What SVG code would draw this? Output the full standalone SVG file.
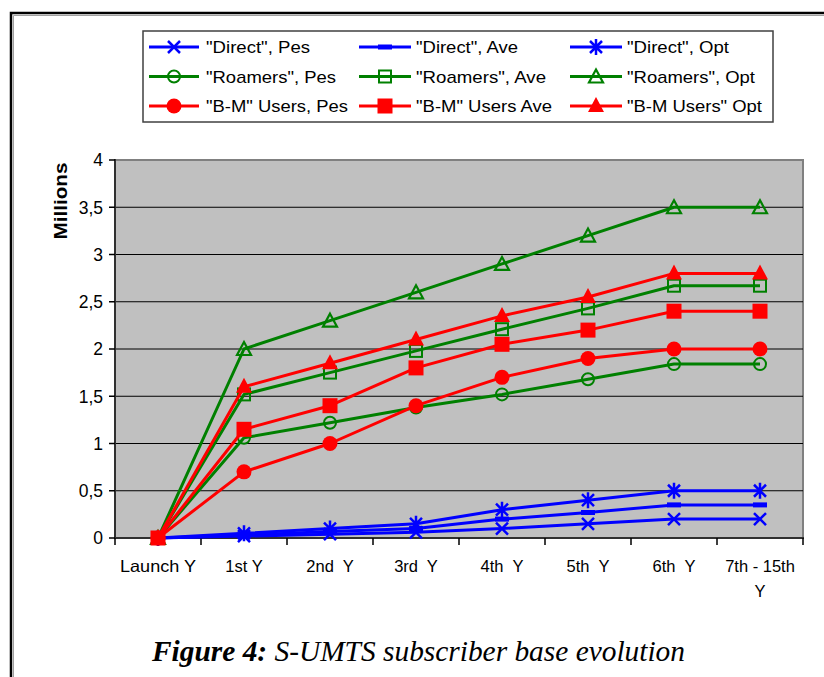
<svg xmlns="http://www.w3.org/2000/svg" width="824" height="677" viewBox="0 0 824 677">
<style>
  .lbl{font-family:"Liberation Sans",Arial,sans-serif;font-size:16.5px;fill:#000;white-space:pre}
  .ylbl{font-family:"Liberation Sans",Arial,sans-serif;font-size:17.5px;fill:#000}
  .leg{font-family:"Liberation Sans",Arial,sans-serif;font-size:17px;fill:#000}
  .grid{stroke:#000;stroke-width:1}
  .blue{fill:none;stroke:#0000FF;stroke-width:3;stroke-linejoin:round}
  .green{fill:none;stroke:#008000;stroke-width:3;stroke-linejoin:round}
  .red{fill:none;stroke:#FF0000;stroke-width:3;stroke-linejoin:round}
  .tick{stroke:#000;stroke-width:1.5}
</style>
<defs>
  <marker id="mX" viewBox="-9 -9 18 18" refX="0" refY="0" markerWidth="18" markerHeight="18" markerUnits="userSpaceOnUse" overflow="visible">
    <path d="M-6,-6 L6,6 M-6,6 L6,-6" stroke="#0000FF" stroke-width="2.5" fill="none"/>
  </marker>
  <marker id="mDash" viewBox="-9 -9 18 18" refX="0" refY="0" markerWidth="18" markerHeight="18" markerUnits="userSpaceOnUse" overflow="visible">
    <rect x="-7" y="-2.5" width="14" height="5" fill="#0000FF"/>
  </marker>
  <marker id="mStar" viewBox="-9 -9 18 18" refX="0" refY="0" markerWidth="18" markerHeight="18" markerUnits="userSpaceOnUse" overflow="visible">
    <path d="M-6,-6 L6,6 M-6,6 L6,-6 M0,-8 L0,8" stroke="#0000FF" stroke-width="2.5" fill="none"/>
  </marker>
  <marker id="mCircO" viewBox="-9 -9 18 18" refX="0" refY="0" markerWidth="18" markerHeight="18" markerUnits="userSpaceOnUse" overflow="visible">
    <circle r="6" fill="none" stroke="#008000" stroke-width="2"/>
  </marker>
  <marker id="mSqO" viewBox="-9 -9 18 18" refX="0" refY="0" markerWidth="18" markerHeight="18" markerUnits="userSpaceOnUse" overflow="visible">
    <rect x="-6" y="-6" width="12" height="12" fill="none" stroke="#008000" stroke-width="2"/>
  </marker>
  <marker id="mTriO" viewBox="-9 -9 18 18" refX="0" refY="0" markerWidth="18" markerHeight="18" markerUnits="userSpaceOnUse" overflow="visible">
    <polygon points="0,-7 7,6 -7,6" fill="none" stroke="#008000" stroke-width="2.2"/>
  </marker>
  <marker id="mCircF" viewBox="-9 -9 18 18" refX="0" refY="0" markerWidth="18" markerHeight="18" markerUnits="userSpaceOnUse" overflow="visible">
    <circle r="7.5" fill="#FF0000"/>
  </marker>
  <marker id="mSqF" viewBox="-9 -9 18 18" refX="0" refY="0" markerWidth="18" markerHeight="18" markerUnits="userSpaceOnUse" overflow="visible">
    <rect x="-7.5" y="-7.5" width="15" height="15" fill="#FF0000"/>
  </marker>
  <marker id="mTriF" viewBox="-9 -9 18 18" refX="0" refY="0" markerWidth="18" markerHeight="18" markerUnits="userSpaceOnUse" overflow="visible">
    <polygon points="0,-9 8,6 -8,6" fill="#FF0000"/>
  </marker>
</defs>
<rect width="824" height="677" fill="#FFFFFF"/>

<g id="frame">
  <path d="M11,677 V13 H824" fill="none" stroke="#000" stroke-width="2.5"/>
  <path d="M13.5,677 V15.5 H824" fill="none" stroke="#A0A0A0" stroke-width="1"/>
</g>

<g id="legend">
  <rect x="143" y="31" width="630" height="91" fill="#FFFFFF" stroke="#404040" stroke-width="1.5"/>
  <g id="leg-direct-pes"><path class="blue" d="M149,47 H174 H199" marker-mid="url(#mX)"/><text class="leg" x="206" y="53" textLength="104" lengthAdjust="spacingAndGlyphs">"Direct", Pes</text></g>
  <g id="leg-direct-ave"><path class="blue" d="M359,47 H385 H411" marker-mid="url(#mDash)"/><text class="leg" x="416" y="53" textLength="102" lengthAdjust="spacingAndGlyphs">"Direct", Ave</text></g>
  <g id="leg-direct-opt"><path class="blue" d="M570,47 H596 H622" marker-mid="url(#mStar)"/><text class="leg" x="627" y="53" textLength="102" lengthAdjust="spacingAndGlyphs">"Direct", Opt</text></g>
  <g id="leg-roam-pes"><path class="green" d="M149,76.5 H174 H199" marker-mid="url(#mCircO)"/><text class="leg" x="206" y="82.5" textLength="130" lengthAdjust="spacingAndGlyphs">"Roamers", Pes</text></g>
  <g id="leg-roam-ave"><path class="green" d="M359,76.5 H385 H411" marker-mid="url(#mSqO)"/><text class="leg" x="416" y="82.5" textLength="130" lengthAdjust="spacingAndGlyphs">"Roamers", Ave</text></g>
  <g id="leg-roam-opt"><path class="green" d="M570,76.5 H596 H622" marker-mid="url(#mTriO)"/><text class="leg" x="627" y="82.5" textLength="128" lengthAdjust="spacingAndGlyphs">"Roamers", Opt</text></g>
  <g id="leg-bm-pes"><path class="red" d="M149,106 H174 H199" marker-mid="url(#mCircF)"/><text class="leg" x="206" y="112" textLength="142" lengthAdjust="spacingAndGlyphs">"B-M" Users, Pes</text></g>
  <g id="leg-bm-ave"><path class="red" d="M359,106 H385 H411" marker-mid="url(#mSqF)"/><text class="leg" x="416" y="112" textLength="136" lengthAdjust="spacingAndGlyphs">"B-M" Users Ave</text></g>
  <g id="leg-bm-opt"><path class="red" d="M570,106 H596 H622" marker-mid="url(#mTriF)"/><text class="leg" x="627" y="112" textLength="135" lengthAdjust="spacingAndGlyphs">"B-M Users" Opt</text></g>
</g>

<g id="plot-area">
  <rect x="115" y="160" width="688" height="378" fill="#C0C0C0" stroke="#808080" stroke-width="2"/>
  <g id="gridlines">
    <line class="grid" x1="115" y1="207.25" x2="803" y2="207.25"/>
    <line class="grid" x1="115" y1="254.5" x2="803" y2="254.5"/>
    <line class="grid" x1="115" y1="301.75" x2="803" y2="301.75"/>
    <line class="grid" x1="115" y1="349" x2="803" y2="349"/>
    <line class="grid" x1="115" y1="396.25" x2="803" y2="396.25"/>
    <line class="grid" x1="115" y1="443.5" x2="803" y2="443.5"/>
    <line class="grid" x1="115" y1="490.75" x2="803" y2="490.75"/>
  </g>
  <g id="axes">
    <line x1="115" y1="159" x2="115" y2="539" stroke="#303030" stroke-width="2"/>
    <line x1="114" y1="538" x2="804" y2="538" stroke="#303030" stroke-width="2"/>
    <path class="tick" d="M109,160 H115 M109,207.25 H115 M109,254.5 H115 M109,301.75 H115 M109,349 H115 M109,396.25 H115 M109,443.5 H115 M109,490.75 H115 M109,538 H115"/>
    <path class="tick" d="M115,538 V545 M201,538 V545 M287,538 V545 M373,538 V545 M459,538 V545 M545,538 V545 M631,538 V545 M717,538 V545 M803,538 V545"/>
  </g>
</g>

<g id="y-labels" class="ylbl" text-anchor="end">
  <text x="103" y="166">4</text>
  <text x="103" y="213.5">3,5</text>
  <text x="103" y="260.5">3</text>
  <text x="103" y="308">2,5</text>
  <text x="103" y="355">2</text>
  <text x="103" y="402.5">1,5</text>
  <text x="103" y="449.5">1</text>
  <text x="103" y="497">0,5</text>
  <text x="103" y="544">0</text>
</g>
<text id="y-title" transform="translate(67,201) rotate(-90)" text-anchor="middle" font-family="Liberation Sans, Arial, sans-serif" font-weight="bold" font-size="19" textLength="77" lengthAdjust="spacingAndGlyphs">Millions</text>

<g id="x-labels" class="lbl" text-anchor="middle">
  <text x="158" y="572" textLength="76" lengthAdjust="spacingAndGlyphs">Launch Y</text>
  <text x="244" y="572">1st Y</text>
  <text x="330" y="572">2nd&#160; Y</text>
  <text x="416" y="572">3rd&#160; Y</text>
  <text x="502" y="572">4th&#160; Y</text>
  <text x="588" y="572">5th&#160; Y</text>
  <text x="674" y="572">6th&#160; Y</text>
  <text x="760" y="572">7th - 15th</text>
  <text x="760" y="597">Y</text>
</g>

<g id="series">
  <polyline id="direct-pes" class="blue" points="158,538 244,536.1 330,534.2 416,532.3 502,528.55 588,523.8 674,519.1 760,519.1" marker-start="url(#mX)" marker-mid="url(#mX)" marker-end="url(#mX)"/>
  <polyline id="direct-ave" class="blue" points="158,538 244,535.2 330,531.4 416,528.6 502,519.1 588,512.5 674,504.9 760,504.9" marker-start="url(#mDash)" marker-mid="url(#mDash)" marker-end="url(#mDash)"/>
  <polyline id="direct-opt" class="blue" points="158,538 244,533.3 330,528.6 416,523.8 502,509.7 588,500.2 674,490.75 760,490.75" marker-start="url(#mStar)" marker-mid="url(#mStar)" marker-end="url(#mStar)"/>
  <polyline id="roam-pes" class="green" points="158,538 244,437.8 330,422.7 416,407.6 502,394.4 588,379.2 674,364.1 760,364.1" marker-start="url(#mCircO)" marker-mid="url(#mCircO)" marker-end="url(#mCircO)"/>
  <polyline id="roam-ave" class="green" points="158,538 244,394.4 330,372.6 416,350.9 502,329.2 588,308.4 674,285.7 760,285.7" marker-start="url(#mSqO)" marker-mid="url(#mSqO)" marker-end="url(#mSqO)"/>
  <polyline id="roam-opt" class="green" points="158,538 244,349 330,320.65 416,292.3 502,263.95 588,235.6 674,207.25 760,207.25" marker-start="url(#mTriO)" marker-mid="url(#mTriO)" marker-end="url(#mTriO)"/>
  <polyline id="bm-pes" class="red" points="158,538 244,471.85 330,443.5 416,405.7 502,377.35 588,358.45 674,349 760,349" marker-start="url(#mCircF)" marker-mid="url(#mCircF)" marker-end="url(#mCircF)"/>
  <polyline id="bm-opt" class="red" points="158,538 244,386.8 330,363.2 416,339.55 502,315.9 588,297 674,273.4 760,273.4" marker-start="url(#mTriF)" marker-mid="url(#mTriF)" marker-end="url(#mTriF)"/>
  <polyline id="bm-ave" class="red" points="158,538 244,429.3 330,405.7 416,367.9 502,344.3 588,330.1 674,311.2 760,311.2" marker-start="url(#mSqF)" marker-mid="url(#mSqF)" marker-end="url(#mSqF)"/>
</g>

<text id="caption" x="152" y="661" font-family="Liberation Serif, Times New Roman, serif" font-style="italic" font-size="29" textLength="533" lengthAdjust="spacingAndGlyphs"><tspan font-weight="bold">Figure 4:</tspan> S-UMTS subscriber base evolution</text>
</svg>
